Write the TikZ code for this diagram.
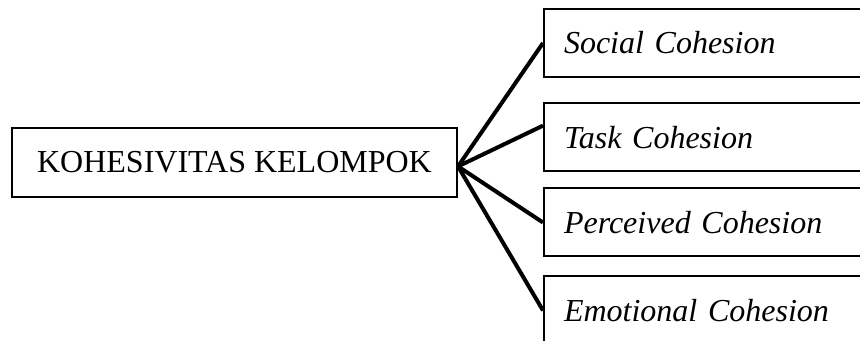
\documentclass[tikz,border=0pt]{standalone}
\usepackage{fontspec}
\setmainfont{Liberation Serif}
\usetikzlibrary{positioning}

\begin{document}
\begin{tikzpicture}[x=0.5pt,y=-0.5pt,every node/.style={font=\fontsize{16}{19}\selectfont},
  mainbox/.style={draw,line width=1pt,anchor=west,minimum width=222.5pt,minimum height=34.5pt,inner sep=0pt},
  subbox/.style={draw,line width=1pt,anchor=west,text width=148.5pt,align=left,inner xsep=10pt,minimum height=34pt,font=\fontsize{16}{19}\selectfont\itshape},
  link/.style={line width=2pt}]
\useasboundingbox (0,0) rectangle (860,341);
\clip (0,0) rectangle (860,341);
\node[mainbox] (kohesi) at (11,162.5) {KOHESIVITAS KELOMPOK};
\node[subbox] (social) at (543,43) {Social Cohesion};
\node[subbox] (task) at (543,137.5) {Task Cohesion};
\node[subbox] (perceived) at (543,222.5) {Perceived Cohesion};
\node[subbox] (emotional) at (543,310.5) {Emotional Cohesion};
\draw[link] (kohesi.-1.3) -- (social.west);
\draw[link] (kohesi.-1.3) -- (task.176.6);
\draw[link] (kohesi.-1.3) -- (perceived.west);
\draw[link] (kohesi.-1.3) -- (emotional.west);
\end{tikzpicture}
\end{document}
